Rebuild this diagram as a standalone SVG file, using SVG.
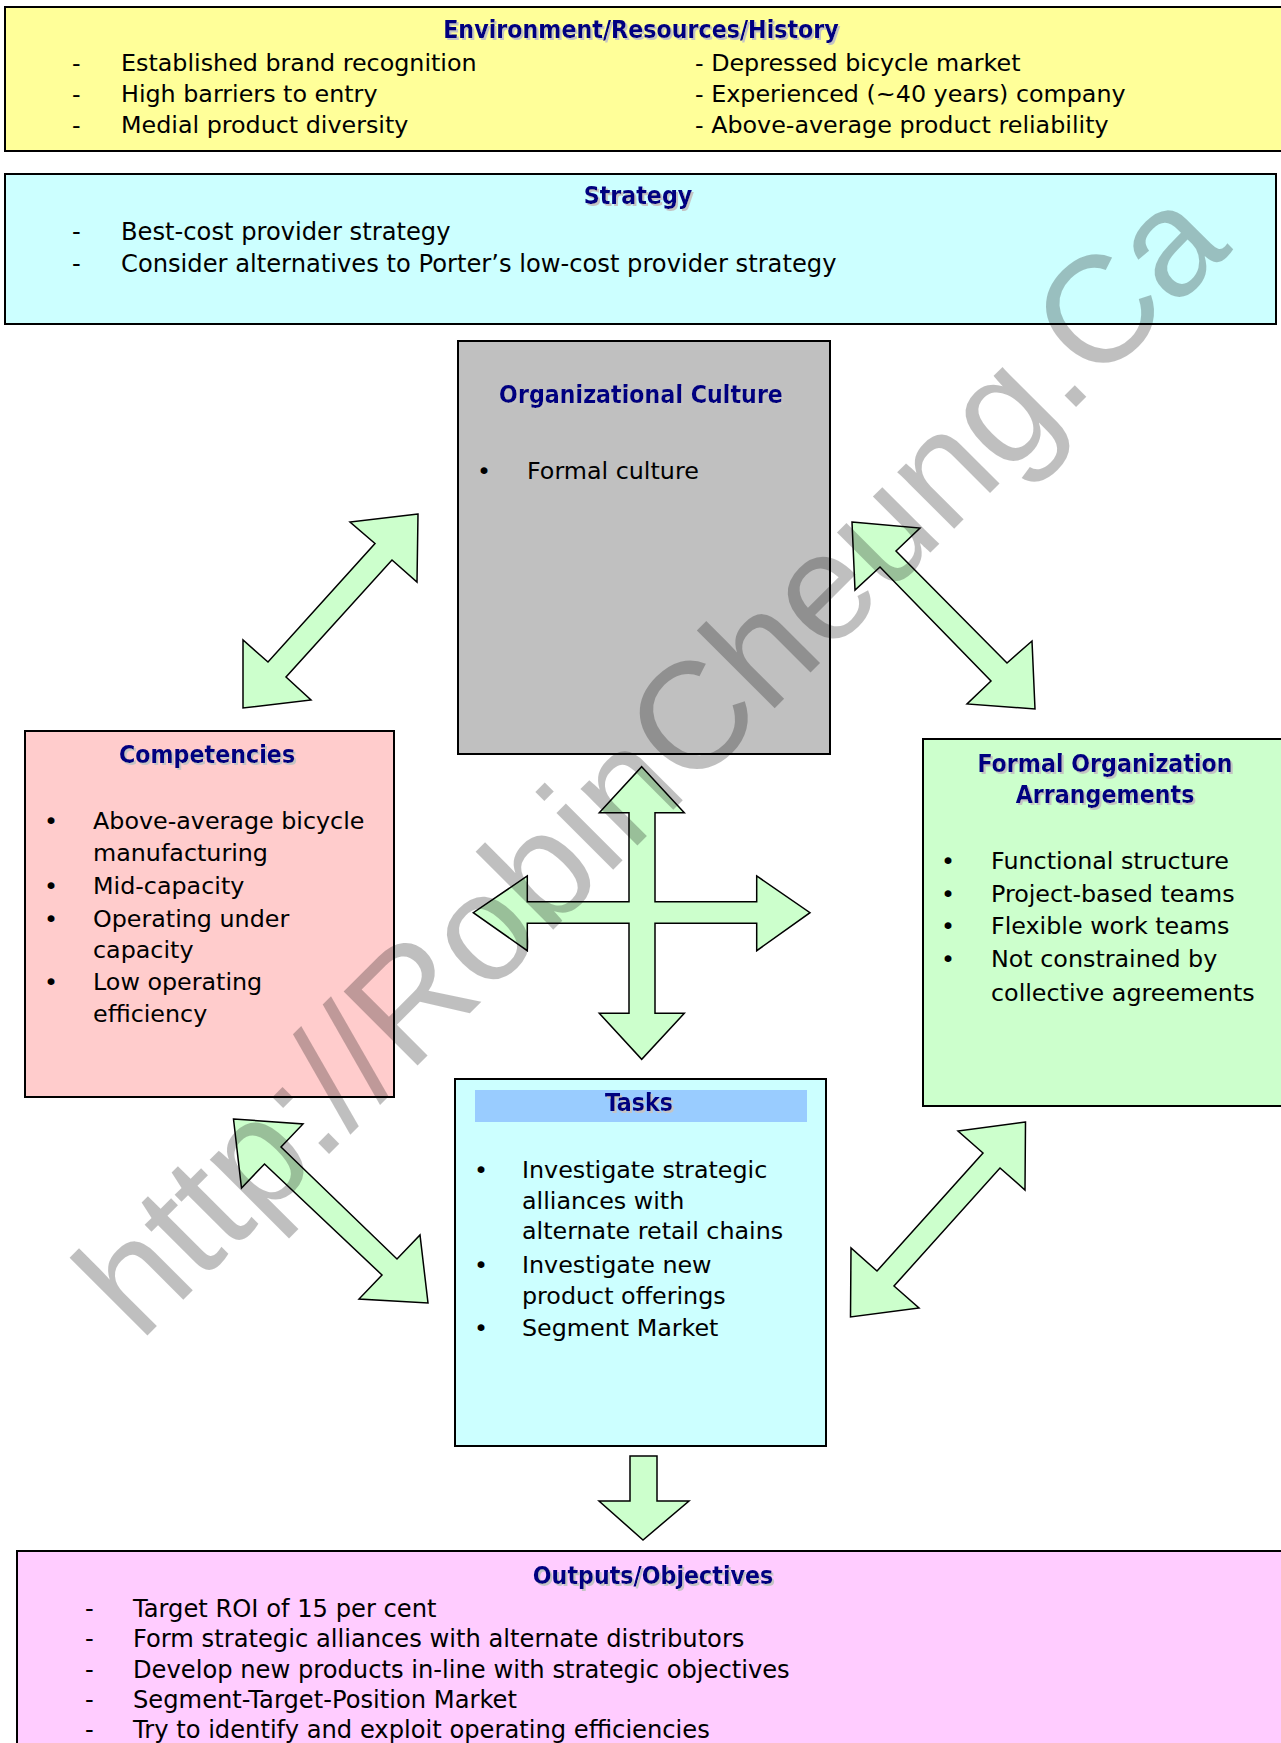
<svg xmlns="http://www.w3.org/2000/svg" width="1281" height="1743" viewBox="0 0 1281 1743">
<defs>
<filter id="sh" x="-5%" y="-30%" width="115%" height="170%">
<feDropShadow dx="2" dy="2" stdDeviation="0.4" flood-color="#c4c4c4" flood-opacity="1"/>
</filter>
</defs>
<style>
.box{stroke:#000;stroke-width:2}
.t{font-family:"DejaVu Sans","Liberation Sans",sans-serif;font-size:23.8px;fill:#000}
.w{font-size:24.2px}
.h{font-family:"DejaVu Sans Condensed","DejaVu Sans",sans-serif;font-stretch:condensed;font-weight:bold;font-size:24.7px;fill:#000080;text-anchor:middle;filter:url(#sh)}
.arr{fill:#ccffcc;stroke:#000;stroke-width:1.5;stroke-linejoin:miter}
.wm{font-family:"Liberation Sans",sans-serif;font-size:152px;fill:#000;fill-opacity:0.25}
</style>
<rect width="1281" height="1743" fill="#fff"/>

<g id="env">
<rect class="box" x="5" y="7" width="1290" height="144" fill="#ffff99"/>
<text class="h" x="641" y="38">Environment/Resources/History</text>
<text class="t" x="72" y="71">-</text><text class="t" x="121" y="71">Established brand recognition</text>
<text class="t" x="72" y="102">-</text><text class="t" x="121" y="102">High barriers to entry</text>
<text class="t" x="72" y="133">-</text><text class="t" x="121" y="133">Medial product diversity</text>
<text class="t" x="695" y="71">- Depressed bicycle market</text>
<text class="t" x="695" y="102">- Experienced (~40 years) company</text>
<text class="t" x="695" y="133">- Above-average product reliability</text>
</g>

<g id="strategy">
<rect class="box" x="5" y="174" width="1271" height="150" fill="#ccffff"/>
<text class="h" x="638" y="204">Strategy</text>
<text class="t w" x="72" y="240">-</text><text class="t w" x="121" y="240">Best-cost provider strategy</text>
<text class="t w" x="72" y="272">-</text><text class="t w" x="121" y="272">Consider alternatives to Porter’s low-cost provider strategy</text>
</g>

<g id="culture">
<rect class="box" x="458" y="341" width="372" height="413" fill="#c0c0c0"/>
<text class="h" x="641" y="403">Organizational Culture</text>
<text class="t" x="477" y="479">•</text><text class="t" x="527" y="479">Formal culture</text>
</g>

<g id="competencies">
<rect class="box" x="25" y="731" width="369" height="366" fill="#ffcccc"/>
<text class="h" x="207" y="763">Competencies</text>
<text class="t" x="44" y="829">•</text><text class="t" x="93" y="829">Above-average bicycle</text>
<text class="t" x="93" y="861">manufacturing</text>
<text class="t" x="44" y="894">•</text><text class="t" x="93" y="894">Mid-capacity</text>
<text class="t" x="44" y="927">•</text><text class="t" x="93" y="927">Operating under</text>
<text class="t" x="93" y="958">capacity</text>
<text class="t" x="44" y="990">•</text><text class="t" x="93" y="990">Low operating</text>
<text class="t" x="93" y="1022">efficiency</text>
</g>

<g id="formal">
<rect class="box" x="923" y="739" width="370" height="367" fill="#ccffcc"/>
<text class="h" x="1105" y="772">Formal Organization</text>
<text class="h" x="1105" y="803">Arrangements</text>
<text class="t" x="941" y="869">•</text><text class="t" x="991" y="869">Functional structure</text>
<text class="t" x="941" y="902">•</text><text class="t" x="991" y="902">Project-based teams</text>
<text class="t" x="941" y="934">•</text><text class="t" x="991" y="934">Flexible work teams</text>
<text class="t" x="941" y="967">•</text><text class="t" x="991" y="967">Not constrained by</text>
<text class="t" x="991" y="1001">collective agreements</text>
</g>

<g id="tasks">
<rect class="box" x="455" y="1079" width="371" height="367" fill="#ccffff"/>
<rect x="475" y="1090" width="332" height="32" fill="#99ccff"/>
<text class="h" x="639" y="1111">Tasks</text>
<text class="t" x="474" y="1178">•</text><text class="t" x="522" y="1178">Investigate strategic</text>
<text class="t" x="522" y="1209">alliances with</text>
<text class="t" x="522" y="1239">alternate retail chains</text>
<text class="t" x="474" y="1273">•</text><text class="t" x="522" y="1273">Investigate new</text>
<text class="t" x="522" y="1304">product offerings</text>
<text class="t" x="474" y="1336">•</text><text class="t" x="522" y="1336">Segment Market</text>
</g>

<g id="outputs">
<rect class="box" x="17" y="1551" width="1280" height="250" fill="#ffccff"/>
<text class="h" x="653" y="1584">Outputs/Objectives</text>
<text class="t w" x="85" y="1617">-</text><text class="t w" x="133" y="1617">Target ROI of 15 per cent</text>
<text class="t w" x="85" y="1647">-</text><text class="t w" x="133" y="1647">Form strategic alliances with alternate distributors</text>
<text class="t w" x="85" y="1678">-</text><text class="t w" x="133" y="1678">Develop new products in-line with strategic objectives</text>
<text class="t w" x="85" y="1708">-</text><text class="t w" x="133" y="1708">Segment-Target-Position Market</text>
<text class="t w" x="85" y="1738">-</text><text class="t w" x="133" y="1738">Try to identify and exploit operating efficiencies</text>
</g>

<g id="connectors">
<polygon class="arr" points="418,514 350,522 375,543.5 268,662 243,640 243,708 311,700 286,677 392,560 417,582"/>
<polygon class="arr" points="852,522 920,528 896,551 1007,663 1032,641 1035,709 967,704 991,681 880,567 855,590"/>
<polygon class="arr" points="233.5,1119 303,1124 281,1147 397,1259 420,1235 428,1303 359,1299 382,1275 264.5,1164 241.5,1188"/>
<polygon class="arr" points="1025.5,1122 958,1131 983,1153 877,1271 851,1248 850.5,1317 919,1308 894,1286 1000,1168 1025,1190"/>
<polygon class="arr" points="641.7,766.7 684.3,812.7 655,812.7 655,901.7 756.7,901.7 756.7,876 810,912.7 756.7,950.7 756.7,923.3 655,923.3 655,1013.3 684.3,1013.3 641.7,1059.3 599.3,1013.3 629,1013.3 629,923.3 527.3,923.3 527.3,950.7 473.3,912.7 527.3,876 527.3,901.7 629,901.7 629,812.7 599.3,812.7"/>
<polygon class="arr" points="630,1456 657,1456 657,1501 689,1501 643,1540 599,1501 630,1501"/>
</g>

<text class="wm" transform="translate(140,1343) rotate(-45)">http://RobinCheung.Ca</text>
</svg>
